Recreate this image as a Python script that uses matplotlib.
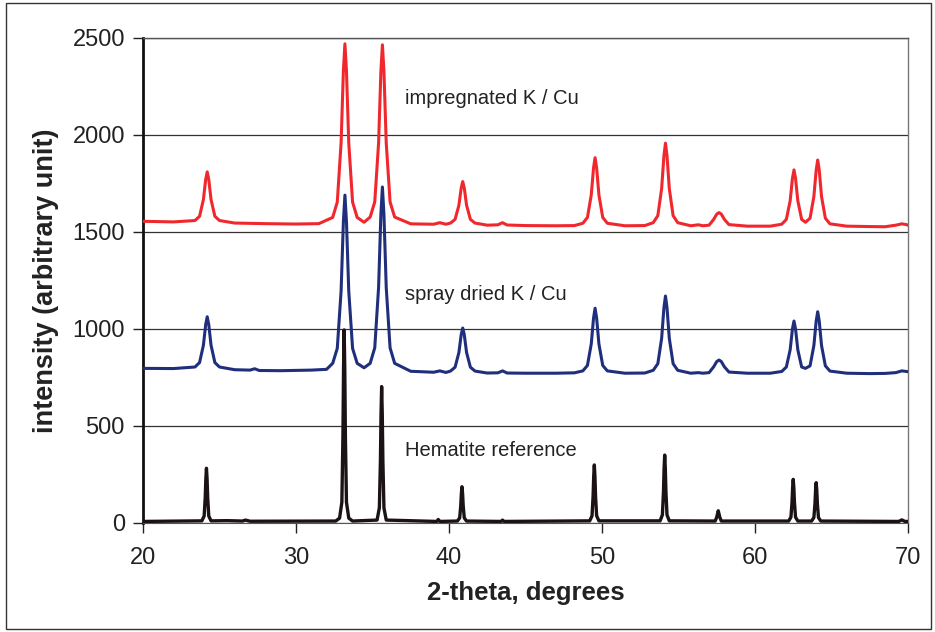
import numpy as np
import matplotlib
matplotlib.use('Agg')
import matplotlib.pyplot as plt
from matplotlib.patches import Rectangle

plt.rcParams['font.family'] = ['Liberation Sans', 'DejaVu Sans']

# impregnated K / Cu  (red)
imp_x = [20, 22, 23.4, 23.7, 23.95, 24.1, 24.2, 24.3, 24.45, 24.7, 25.0, 26, 28, 30, 31.5,
         32.4, 32.7, 32.95, 33.1, 33.2, 33.3, 33.45, 33.7, 34.0, 34.45,
         34.85, 35.15, 35.4, 35.55, 35.65, 35.75, 35.9, 36.15, 36.45, 37.5, 39.0, 39.4, 39.8,
         40.1, 40.4, 40.65, 40.8, 40.9, 41.0, 41.15, 41.4, 41.7, 42.5, 43.2, 43.5, 43.8, 45, 47, 48.2,
         48.75, 49.05, 49.3, 49.45, 49.55, 49.65, 49.8, 50.05, 50.35, 51.5, 52.8,
         53.35, 53.65, 53.9, 54.05, 54.15, 54.25, 54.4, 54.65, 54.95, 55.8, 56.3, 56.6, 57.0,
         57.3, 57.5, 57.65, 57.8, 58.0, 58.3, 59.5, 61.0,
         61.75, 62.05, 62.3, 62.45, 62.55, 62.65, 62.8, 63.05, 63.3,
         63.6, 63.85, 64.0, 64.1, 64.2, 64.35, 64.6, 64.9, 66, 67.5, 68.5, 69.2, 69.6, 69.9, 70]
imp_y = [1555, 1552, 1559, 1581, 1667, 1771, 1810, 1771, 1667, 1581, 1559, 1546, 1543, 1541, 1543,
         1575, 1654, 1960, 2331, 2470, 2331, 1960, 1654, 1575, 1550,
         1577, 1655, 1959, 2327, 2465, 2327, 1959, 1655, 1577, 1542, 1540, 1548, 1540,
         1546, 1565, 1638, 1727, 1760, 1727, 1638, 1565, 1546, 1535, 1537, 1548, 1536, 1533, 1532, 1533,
         1545, 1575, 1691, 1831, 1883, 1831, 1691, 1575, 1545, 1532, 1533,
         1548, 1584, 1724, 1894, 1958, 1894, 1724, 1584, 1548, 1532, 1537, 1532, 1535,
         1565, 1592, 1600, 1592, 1565, 1538, 1530, 1530,
         1540, 1565, 1661, 1777, 1820, 1777, 1661, 1565, 1550,
         1571, 1683, 1819, 1871, 1819, 1683, 1571, 1542, 1530, 1528, 1527, 1535, 1542, 1538, 1535]

# spray dried K / Cu  (blue)
spr_x = [20, 22, 23.4, 23.7, 23.95, 24.1, 24.2, 24.3, 24.45, 24.7, 25.0, 26, 27.0, 27.3, 27.6, 29, 31, 32,
         32.4, 32.7, 32.95, 33.1, 33.2, 33.3, 33.45, 33.7, 34.0, 34.45,
         34.85, 35.15, 35.4, 35.55, 35.65, 35.75, 35.9, 36.15, 36.45, 37.5, 39.0, 39.4, 39.8,
         40.1, 40.4, 40.65, 40.8, 40.9, 41.0, 41.15, 41.4, 41.7, 42.5, 43.2, 43.5, 43.8, 45, 47, 48.2,
         48.75, 49.05, 49.3, 49.45, 49.55, 49.65, 49.8, 50.05, 50.35, 51.5, 52.8,
         53.35, 53.65, 53.9, 54.05, 54.15, 54.25, 54.4, 54.65, 54.95, 55.8, 56.3, 56.6, 57.0,
         57.3, 57.5, 57.65, 57.8, 58.0, 58.3, 59.5, 61.0,
         61.75, 62.05, 62.3, 62.45, 62.55, 62.65, 62.8, 63.05, 63.3,
         63.6, 63.85, 64.0, 64.1, 64.2, 64.35, 64.6, 64.9, 66, 67.5, 68.5, 69.2, 69.6, 70]
spr_y = [797, 796, 804, 827, 916, 1023, 1063, 1023, 916, 827, 804, 790, 788, 795, 786, 785, 788, 792,
         823, 900, 1196, 1555, 1690, 1555, 1196, 900, 823, 800,
         823, 903, 1214, 1591, 1732, 1591, 1214, 903, 823, 782, 777, 784, 776,
         783, 803, 879, 971, 1005, 971, 879, 803, 783, 773, 774, 784, 773, 772, 772, 774,
         784, 812, 923, 1057, 1107, 1057, 923, 812, 784, 772, 773,
         787, 821, 952, 1110, 1170, 1110, 952, 821, 787, 772, 775, 772, 775,
         805, 832, 840, 832, 805, 778, 772, 772,
         781, 804, 893, 1001, 1041, 1001, 893, 804, 797,
         810, 915, 1041, 1089, 1041, 915, 810, 783, 772, 770, 771, 775, 784, 780]

# Hematite reference  (black)
hem_x = [20, 23.85, 24.0, 24.07, 24.11, 24.15, 24.19, 24.23, 24.3, 24.45, 25.5, 26.5, 26.7, 27.0,
         32.6, 32.85, 33.0, 33.07, 33.11, 33.15, 33.19, 33.23, 33.3, 33.45, 33.7,
         35.3, 35.45, 35.52, 35.56, 35.6, 35.64, 35.68, 35.75, 35.9,
         39.2, 39.3, 39.4,
         40.55, 40.7, 40.77, 40.81, 40.85, 40.89, 40.93, 41.0, 41.15,
         43.4, 43.5, 43.6,
         49.2, 49.35, 49.42, 49.46, 49.5, 49.54, 49.58, 49.65, 49.8,
         53.8, 53.95, 54.02, 54.06, 54.1, 54.14, 54.18, 54.25, 54.4,
         57.4, 57.5, 57.6, 57.7, 57.8,
         62.2, 62.35, 62.42, 62.46, 62.5, 62.54, 62.58, 62.65, 62.8,
         63.7, 63.85, 63.92, 63.96, 64.0, 64.04, 64.08, 64.15, 64.3,
         69.4, 69.6, 69.8, 70]
hem_y = [8, 11, 36, 132, 228, 282, 228, 132, 36, 11, 12, 10, 15, 9,
         10, 25, 107, 452, 798, 995, 798, 452, 107, 25, 10,
         15, 78, 321, 564, 703, 564, 321, 78, 15,
         8, 18, 8,
         10, 26, 89, 151, 187, 151, 89, 26, 10,
         8, 15, 8,
         11, 37, 139, 241, 299, 241, 139, 37, 11,
         11, 42, 162, 282, 350, 282, 162, 42, 11,
         10, 30, 63, 30, 10,
         10, 30, 106, 182, 225, 182, 106, 30, 10,
         10, 28, 98, 168, 208, 168, 98, 28, 10,
         8, 16, 8, 8]

labels = ['impregnated K / Cu', 'spray dried K / Cu', 'Hematite reference']
label_y = [2190, 1180, 376]

fig = plt.figure(figsize=(9.35, 6.32), dpi=100)
ax = fig.add_axes([0.1529, 0.1725, 0.8182, 0.7674])

ax.plot(imp_x, imp_y, color='#f0282d', lw=2.2, zorder=3)
ax.plot(spr_x, spr_y, color='#1f2f7c', lw=2.2, zorder=3)
ax.plot(hem_x, hem_y, color='#1a1214', lw=2.4, zorder=4)

for t, yv in zip(labels, label_y):
    ax.text(37.1, yv, t, fontsize=14.5, color='#222222', va='center', ha='left')

ax.set_xlim(20, 70)
ax.set_ylim(0, 2500)
ax.set_xticks(range(20, 71, 10))
ax.set_yticks(range(0, 2501, 500))
ax.yaxis.grid(True, color='#333333', lw=0.9)
ax.set_axisbelow(True)
ax.tick_params(direction='out', length=7, width=1, labelsize=17, colors='#222222', pad=6)
ax.tick_params(axis='x', pad=10)

ax.spines['left'].set_color('#111111')
ax.spines['left'].set_linewidth(2)
ax.spines['bottom'].set_color('#555555')
ax.spines['top'].set_color('#555555')
ax.spines['right'].set_color('#777777')
ax.spines['top'].set_linewidth(1)
ax.spines['right'].set_linewidth(1)

ax.set_xlabel('2-theta, degrees', fontsize=18.5, fontweight='bold', color='#222222', labelpad=9)
ax.set_ylabel('intensity (arbitrary unit)', fontsize=19.5, fontweight='bold', color='#222222', labelpad=10)

fig.patches.append(Rectangle((0.006, 0.004), 0.99, 0.992, transform=fig.transFigure,
                             fill=False, edgecolor='#333333', lw=1))

plt.savefig('out.png', dpi=100)
